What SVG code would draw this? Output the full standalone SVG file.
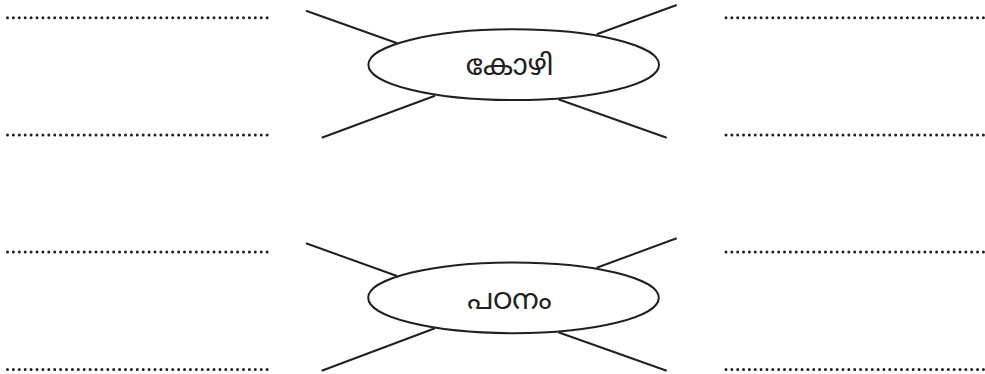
<svg xmlns="http://www.w3.org/2000/svg" width="985" height="374" viewBox="0 0 985 374">
  <style>
    .dots { stroke: #231f20; stroke-width: 3; stroke-linecap: round; stroke-dasharray: 0 5.9; fill: none; }
    .dots.r { stroke-dasharray: 0 5.85; }
    .ray { stroke: #231f20; stroke-width: 2; fill: none; }
    .oval { stroke: #231f20; stroke-width: 2; fill: #ffffff; }
    .lbl { font-family: "Noto Sans Malayalam", "Noto Serif Malayalam", "Manjari", "Rachana", "Meera", "Noto Sans", sans-serif; font-size: 29px; fill: #231f20; text-anchor: middle; }
  </style>
  <rect width="985" height="374" fill="#ffffff"/>
  <g id="answer-lines">
    <line class="dots" x1="7.5" y1="17.8" x2="267.6" y2="17.8"/>
    <line class="dots" x1="7.5" y1="135" x2="267.6" y2="135"/>
    <line class="dots r" x1="726" y1="17.8" x2="983.6" y2="17.8"/>
    <line class="dots r" x1="726" y1="135" x2="983.6" y2="135"/>
    <line class="dots" x1="7.5" y1="252" x2="267.6" y2="252"/>
    <line class="dots" x1="7.5" y1="369.5" x2="267.6" y2="369.5"/>
    <line class="dots r" x1="726" y1="252" x2="983.6" y2="252"/>
    <line class="dots r" x1="726" y1="369.5" x2="983.6" y2="369.5"/>
  </g>
  <g id="connectors">
    <line class="ray" x1="306" y1="10.7" x2="397.3" y2="43.3"/>
    <line class="ray" x1="676.7" y1="5" x2="596.7" y2="34.3"/>
    <line class="ray" x1="321.7" y1="137.7" x2="435" y2="95.7"/>
    <line class="ray" x1="666.7" y1="137.7" x2="558.3" y2="99.3"/>
    <line class="ray" x1="306" y1="243.3" x2="397" y2="276"/>
    <line class="ray" x1="676.7" y1="238.3" x2="596.7" y2="267.7"/>
    <line class="ray" x1="321.7" y1="370.7" x2="435" y2="328.3"/>
    <line class="ray" x1="666.7" y1="370.7" x2="558.3" y2="332.3"/>
  </g>
  <g id="node-kozhi">
    <ellipse class="oval" cx="513.7" cy="64.7" rx="145.3" ry="35.4"/>
    <text class="lbl" x="509.5" y="75">കോഴി</text>
  </g>
  <g id="node-padanam">
    <ellipse class="oval" cx="513.5" cy="297.8" rx="145.3" ry="35.4"/>
    <text class="lbl" x="509.5" y="308.5">പഠനം</text>
  </g>
</svg>
